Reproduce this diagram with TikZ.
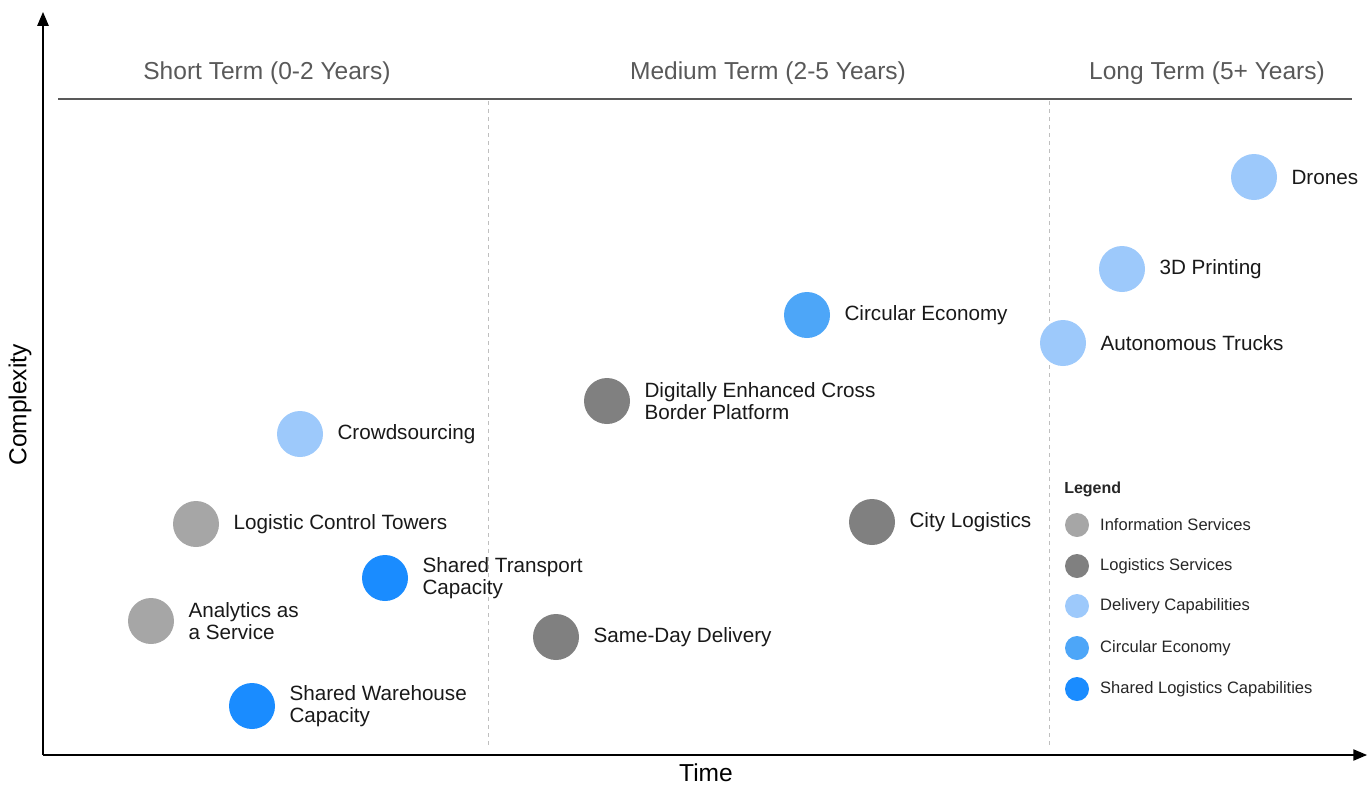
\documentclass[tikz,border=0pt]{standalone}
\usepackage{fontspec}
\setmainfont{Liberation Sans}
\usetikzlibrary{arrows,positioning}

\definecolor{infogray}{HTML}{A6A6A6}
\definecolor{logigray}{HTML}{808080}
\definecolor{delivblue}{HTML}{9DC9FB}
\definecolor{circblue}{HTML}{4DA6F8}
\definecolor{sharedblue}{HTML}{1A8CFF}
\definecolor{headgray}{HTML}{595959}
\definecolor{rulegray}{HTML}{BFBFBF}

\begin{document}
\begin{tikzpicture}[x=0.75pt,y=-0.75pt,>=triangle 45,node distance=10.5pt]
  \tikzstyle{dot}=[circle,draw=none,minimum size=34.5pt,inner sep=0pt]
  \tikzstyle{keydot}=[circle,draw=none,minimum size=18pt,inner sep=0pt]
  \tikzstyle{lbl}=[inner sep=0pt,align=left,text=black!90,
                   font=\fontsize{15.5}{16}\selectfont]
  \tikzstyle{keylbl}=[inner sep=0pt,text=black!85,
                      font=\fontsize{12.4}{14}\selectfont]
  \tikzstyle{head}=[inner sep=0pt,text=headgray,
                    font=\fontsize{18.4}{20}\selectfont]
  \tikzstyle{axislbl}=[inner sep=0pt,text=black,
                       font=\fontsize{18.4}{20}\selectfont]

  \useasboundingbox (0,0) rectangle (1372,786);

  % axes
  \coordinate (origin) at (43,755);
  \coordinate (ytop) at (43,12);
  \coordinate (xend) at (1367,755);
  \draw[->,line width=1.4pt] (origin) -- (ytop);
  \draw[->,line width=1.4pt] (origin) -- (xend);
  \node[axislbl,rotate=90] (complexity) at (20,405) {Complexity};
  \node[axislbl]           (time) at (706,773) {Time};

  % time bands
  \coordinate (rulel) at (58,99);
  \coordinate (ruler) at (1352,99);
  \draw[headgray,line width=0.8pt] (rulel) -- (ruler);
  \draw[rulegray,dashed,line width=0.6pt] (488,101) -- (488,745);
  \draw[rulegray,dashed,line width=0.6pt] (1049,101) -- (1049,745);
  \node[head] (short)  at (267,73)  {Short Term (0-2 Years)};
  \node[head] (medium) at (768,73)  {Medium Term (2-5 Years)};
  \node[head] (long)   at (1207,73) {Long Term (5+ Years)};

  % items
  \node[dot,fill=delivblue]  (drones)   at (1254,177) {};
  \node[lbl] (dronesl)   [right=of drones]   {Drones};
  \node[dot,fill=delivblue]  (printing) at (1122,269) {};
  \node[lbl] (printingl) [right=of printing] {3D Printing};
  \node[dot,fill=delivblue]  (trucks)   at (1063,343) {};
  \node[lbl] (trucksl)   [right=of trucks]   {Autonomous Trucks};
  \node[dot,fill=circblue]   (circular) at (807,315) {};
  \node[lbl] (circularl) [right=of circular] {Circular Economy};
  \node[dot,fill=logigray]   (border)   at (607,401) {};
  \node[lbl] (borderl)   [right=of border]   {Digitally Enhanced Cross\\Border Platform};
  \node[dot,fill=delivblue]  (crowd)    at (300,434) {};
  \node[lbl] (crowdl)    [right=of crowd]    {Crowdsourcing};
  \node[dot,fill=infogray]   (towers)   at (196,524) {};
  \node[lbl] (towersl)   [right=of towers]   {Logistic Control Towers};
  \node[dot,fill=logigray]   (city)     at (872,522) {};
  \node[lbl] (cityl)     [right=of city]     {City Logistics};
  \node[dot,fill=sharedblue] (transport) at (385,578) {};
  \node[lbl] (transportl) [right=of transport] {Shared Transport\\Capacity};
  \node[dot,fill=infogray]   (analytics) at (151,621) {};
  \node[lbl] (analyticsl) [right=of analytics] {Analytics as\\a Service};
  \node[dot,fill=logigray]   (sameday)  at (556,637) {};
  \node[lbl] (samedayl)  [right=of sameday]  {Same-Day Delivery};
  \node[dot,fill=sharedblue] (warehouse) at (252,706) {};
  \node[lbl] (warehousel) [right=of warehouse] {Shared Warehouse\\Capacity};

  % legend
  \node[keylbl,anchor=west,font=\fontsize{12}{14}\selectfont\bfseries]
       (legend) at (1064,489) {Legend};
  \node[keydot,fill=infogray]   (kinfo)   at (1077,525) {};
  \node[keylbl] (kinfol)   [right=8pt of kinfo]   {Information Services};
  \node[keydot,fill=logigray]   (klogi)   at (1077,566) {};
  \node[keylbl] (klogil)   [right=8pt of klogi]   {Logistics Services};
  \node[keydot,fill=delivblue]  (kdeliv)  at (1077,606) {};
  \node[keylbl] (kdelivl)  [right=8pt of kdeliv]  {Delivery Capabilities};
  \node[keydot,fill=circblue]   (kcirc)   at (1077,648) {};
  \node[keylbl] (kcircl)   [right=8pt of kcirc]   {Circular Economy};
  \node[keydot,fill=sharedblue] (kshared) at (1077,689) {};
  \node[keylbl] (ksharedl) [right=8pt of kshared] {Shared Logistics Capabilities};
\end{tikzpicture}
\end{document}
